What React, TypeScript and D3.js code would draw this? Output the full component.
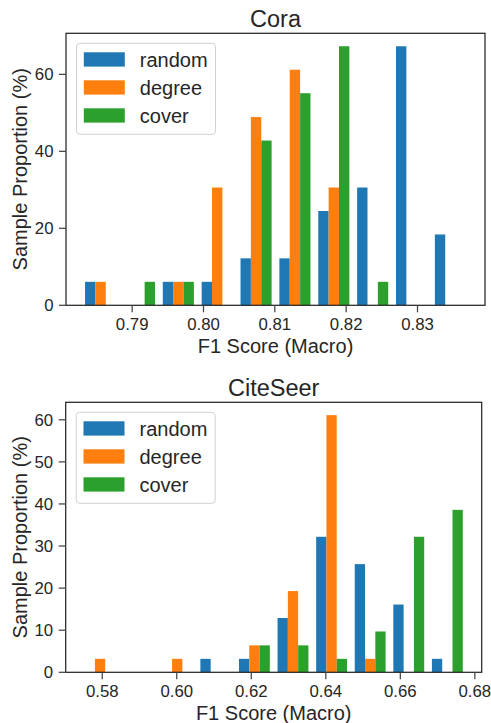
import React from "react";
import * as d3 from "d3";

// ---- Data ----
const seriesNames = ["random", "degree", "cover"];
const seriesColors = ["#1f77b4", "#ff7f0e", "#2ca02c"];

// Cora: 10 shared bins over this F1 range
const coraBinRange = [0.78285, 0.83734];
const coraRandom = [6.1, 0, 6.1, 6.1, 12.2, 12.2, 24.5, 30.6, 67.3, 18.4];
const coraDegree = [6.1, 0, 6.1, 30.6, 48.9, 61.2, 30.6, 0, 0, 0];
const coraCover = [0, 6.1, 6.1, 0, 42.8, 55.1, 67.3, 6.1, 0, 0];
const coraXTicks = [0.79, 0.8, 0.81, 0.82, 0.83];
const coraYTicks = [0, 20, 40, 60];

// CiteSeer
const citeBinRange = [0.57423, 0.6778];
const citeRandom = [0, 0, 0, 3.2, 3.2, 12.9, 32.2, 25.7, 16.1, 3.2];
const citeDegree = [3.2, 0, 3.2, 0, 6.4, 19.3, 61.1, 3.2, 0, 0];
const citeCover = [0, 0, 0, 0, 6.4, 6.4, 3.2, 9.7, 32.2, 38.6];
const citeXTicks = [0.58, 0.6, 0.62, 0.64, 0.66, 0.68];
const citeYTicks = [0, 10, 20, 30, 40, 50, 60];

const FONT = "'Liberation Sans', Arial, 'DejaVu Sans', sans-serif";
const TEXT = "#262626";

type PanelProps = {
  title: string;
  binRange: number[];
  series: number[][];
  xTicks: number[];
  yTicks: number[];
  left: number;
  right: number;
  top: number;
  bottom: number;
};

function Panel({ title, binRange, series, xTicks, yTicks, left, right, top, bottom }: PanelProps) {
  const nBins = series[0].length;
  const nx = series.length;
  const bw = (binRange[1] - binRange[0]) / nBins;
  const edges = d3.range(nBins).map((i) => binRange[0] + i * bw);
  const dw = (0.8 * bw) / nx;
  const firstLeft = binRange[0] + 0.1 * bw;
  const lastRight = binRange[1] - 0.1 * bw;
  const span = lastRight - firstLeft;
  const x = d3
    .scaleLinear()
    .domain([firstLeft - 0.05 * span, lastRight + 0.05 * span])
    .range([left, right]);
  const yMax = d3.max(series.flat()) as number;
  const y = d3.scaleLinear().domain([0, yMax * 1.05]).range([bottom, top]);

  const legX = left + 10.5;
  const legY = top + 10;

  return (
    <g>
      {/* bars */}
      {series.map((vals, j) =>
        vals.map((v, i) =>
          v > 0 ? (
            <rect
              key={`b${j}-${i}`}
              x={x(edges[i] + 0.1 * bw + j * dw)}
              y={y(v)}
              width={x(edges[i] + 0.1 * bw + (j + 1) * dw) - x(edges[i] + 0.1 * bw + j * dw)}
              height={y(0) - y(v)}
              fill={seriesColors[j]}
            />
          ) : null
        )
      )}
      {/* spines */}
      <rect x={left} y={top} width={right - left} height={bottom - top} fill="none" stroke={TEXT} strokeWidth={1.25} />
      {/* x ticks */}
      {xTicks.map((t) => (
        <g key={`xt${t}`}>
          <line x1={x(t)} x2={x(t)} y1={bottom} y2={bottom + 7} stroke="#444" strokeWidth={1.25} />
          <text x={x(t)} y={bottom + 25} textAnchor="middle" fontSize={16.8} fill={TEXT} fontFamily={FONT}>
            {d3.format(".2f")(t)}
          </text>
        </g>
      ))}
      {/* y ticks */}
      {yTicks.map((t) => (
        <g key={`yt${t}`}>
          <line x1={left - 7} x2={left} y1={y(t)} y2={y(t)} stroke="#444" strokeWidth={1.25} />
          <text x={left - 12.5} y={y(t)} dy="0.35em" textAnchor="end" fontSize={16.8} fill={TEXT} fontFamily={FONT}>
            {t}
          </text>
        </g>
      ))}
      {/* labels */}
      <text x={(left + right) / 2} y={bottom + 47.8} textAnchor="middle" fontSize={20} fill={TEXT} fontFamily={FONT}>
        F1 Score (Macro)
      </text>
      <text
        transform={`translate(27,${(top + bottom) / 2}) rotate(-90)`}
        textAnchor="middle"
        fontSize={20}
        fill={TEXT}
        fontFamily={FONT}
      >
        Sample Proportion (%)
      </text>
      <text x={(left + right) / 2} y={top - 6.8} textAnchor="middle" fontSize={23.5} fill={TEXT} fontFamily={FONT}>
        {title}
      </text>
      {/* legend */}
      <rect x={legX} y={legY} width={139} height={91} rx={3.5} fill="white" fillOpacity={0.8} stroke="#d0d0d0" strokeWidth={1} />
      {seriesNames.map((name, j) => (
        <g key={name}>
          <rect x={legX + 7.3} y={legY + 9 + j * 28} width={41} height={14.3} fill={seriesColors[j]} />
          <text x={legX + 63.3} y={legY + 9 + j * 28 + 14.3} fontSize={20} fill={TEXT} fontFamily={FONT}>
            {name}
          </text>
        </g>
      ))}
    </g>
  );
}

export default function App() {
  return (
    <svg
      width={491}
      height={723}
      style={{ position: "absolute", left: 0, top: 0, background: "white" }}
    >
      <rect width={491} height={723} fill="white" />
      <Panel
        title="Cora"
        binRange={coraBinRange}
        series={[coraRandom, coraDegree, coraCover]}
        xTicks={coraXTicks}
        yTicks={coraYTicks}
        left={66}
        right={485}
        top={33.3}
        bottom={305.3}
      />
      <Panel
        title="CiteSeer"
        binRange={citeBinRange}
        series={[citeRandom, citeDegree, citeCover]}
        xTicks={citeXTicks}
        yTicks={citeYTicks}
        left={65.7}
        right={481.7}
        top={402.3}
        bottom={672.3}
      />
    </svg>
  );
}
